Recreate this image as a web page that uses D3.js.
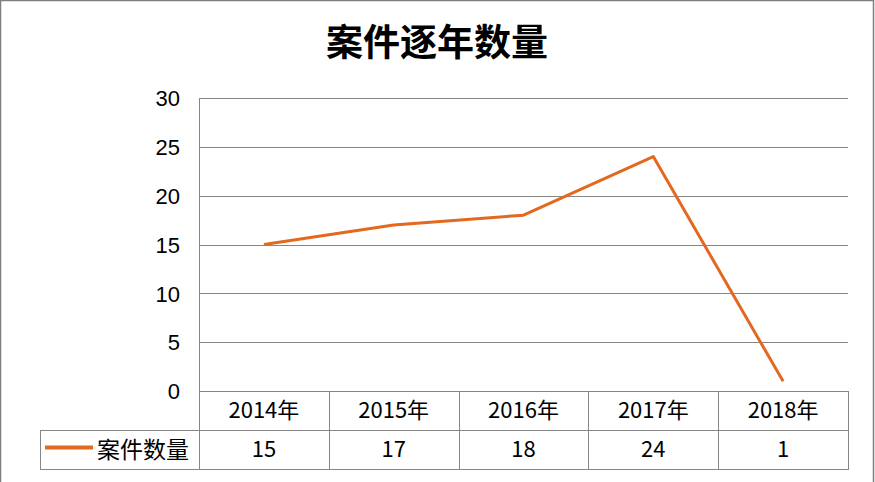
<!DOCTYPE html>
<html><head><meta charset="utf-8">
<script src="https://cdn.jsdelivr.net/npm/d3@7"></script>
<style>
html,body{margin:0;padding:0;background:#fff;}
svg{display:block;}
</style></head>
<body>
<script>
const title = "案件逐年数量";
const categories = ["2014年","2015年","2016年","2017年","2018年"];
const seriesName = "案件数量";
const values = [15, 17, 18, 24, 1];
const yTicks = [0, 5, 10, 15, 20, 25, 30];

const W = 875, H = 482;
const svg = d3.select("body").append("svg").attr("width", W).attr("height", H);
svg.append("rect").attr("x",0.5).attr("y",0.5).attr("width",873).attr("height",H+5)
  .attr("fill","#fff").attr("stroke","#7f7f7f").attr("stroke-width",1.5);

const plot = {left:199, right:848, top:98, bottom:391};
const x = d3.scaleBand().domain(categories).range([plot.left, plot.right]).padding(0);
const y = d3.scaleLinear().domain([0,30]).range([plot.bottom, plot.top]);

svg.append("text").attr("x", 437).attr("y", 56).attr("text-anchor","middle")
  .attr("font-family","'Noto Sans CJK SC', sans-serif").attr("font-weight","bold")
  .attr("font-size", 37).attr("fill","#000").text(title);

// gridlines
svg.append("g").selectAll("line").data(yTicks).join("line")
  .attr("x1", plot.left).attr("x2", plot.right)
  .attr("y1", d=>Math.round(y(d))+0.5).attr("y2", d=>Math.round(y(d))+0.5)
  .attr("stroke","#868686").attr("stroke-width",1);
svg.append("line").attr("x1",plot.left+0.5).attr("x2",plot.left+0.5)
  .attr("y1",plot.top).attr("y2",plot.bottom).attr("stroke","#868686");

// y axis labels
const yAxis = d3.axisLeft(y).tickValues(yTicks).tickSize(0).tickPadding(0);
const ga = svg.append("g").attr("transform",`translate(${plot.left-19},0)`).call(yAxis);
ga.select(".domain").remove();
ga.selectAll("text").attr("font-family","'Liberation Sans', Arial, sans-serif")
  .attr("font-size",22).attr("fill","#000").attr("dy","0.35em");

// data table
const rowTop = plot.bottom, rowH = 39;
const tableLeft = 40;
const tg = svg.append("g").attr("stroke","#868686").attr("fill","none");
tg.append("line").attr("x1",plot.left).attr("x2",plot.right).attr("y1",rowTop+0.5).attr("y2",rowTop+0.5);
tg.append("line").attr("x1",tableLeft).attr("x2",plot.right).attr("y1",rowTop+rowH+0.5).attr("y2",rowTop+rowH+0.5);
tg.append("line").attr("x1",tableLeft).attr("x2",plot.right).attr("y1",rowTop+2*rowH+0.5).attr("y2",rowTop+2*rowH+0.5);
const xs = categories.map(c=>x(c)).concat([plot.right]);
tg.selectAll("line.v").data(xs).join("line").attr("class","v")
  .attr("x1",d=>Math.round(d)+0.5).attr("x2",d=>Math.round(d)+0.5)
  .attr("y1",rowTop).attr("y2",rowTop+2*rowH+1);
tg.append("line").attr("x1",tableLeft+0.5).attr("x2",tableLeft+0.5)
  .attr("y1",rowTop+rowH).attr("y2",rowTop+2*rowH+1);

const font = "'Noto Sans CJK SC', sans-serif";
svg.append("g").selectAll("text").data(categories).join("text")
  .attr("x", d=>x(d)+x.bandwidth()/2).attr("y", rowTop+rowH/2).attr("dy","0.35em")
  .attr("text-anchor","middle").attr("font-family",font).attr("font-size",22)
  .attr("fill","#000").text(d=>d);
svg.append("g").selectAll("text").data(values).join("text")
  .attr("x", (d,i)=>x(categories[i])+x.bandwidth()/2).attr("y", rowTop+rowH*1.5).attr("dy","0.35em")
  .attr("text-anchor","middle").attr("font-family",font).attr("font-size",22)
  .attr("fill","#000").text(d=>d);

const color = "#E2691F";
svg.append("line").attr("x1",45).attr("x2",93).attr("y1",rowTop+rowH*1.5-2).attr("y2",rowTop+rowH*1.5-2)
  .attr("stroke",color).attr("stroke-width",4);
svg.append("text").attr("x",97).attr("y",rowTop+rowH*1.5).attr("dy","0.35em")
  .attr("font-family",font).attr("font-size",23).attr("fill","#000").text(seriesName);

// line
const line = d3.line().x((d,i)=>x(categories[i])+x.bandwidth()/2).y(d=>y(d));
svg.append("path").datum(values).attr("d",line).attr("fill","none")
  .attr("stroke",color).attr("stroke-width",3).attr("stroke-linejoin","round");
</script>
</body></html>
